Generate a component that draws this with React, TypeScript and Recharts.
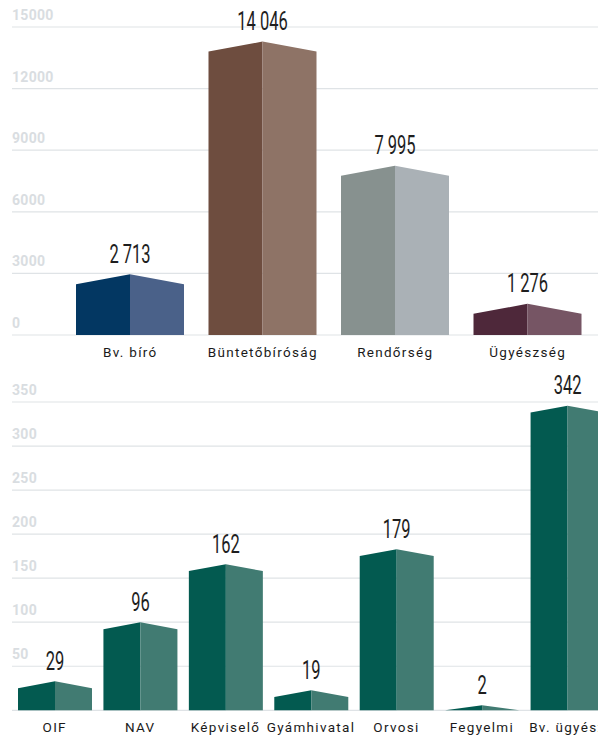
import React from 'react';
import { BarChart, Bar, XAxis, YAxis, CartesianGrid, LabelList } from 'recharts';

const topCategories = ['Bv. bíró', 'Büntetőbíróság', 'Rendőrség', 'Ügyészség'];
const topValues = [2713, 14046, 7995, 1276];
const topDark = ['#033762', '#6e4d3f', '#87918f', '#4e283a'];
const topLight = ['#4a6189', '#8e7366', '#aab1b6', '#765564'];
const topTicks = [0, 3000, 6000, 9000, 12000, 15000];

const bottomCategories = ['OIF', 'NAV', 'Képviselő', 'Gyámhivatal', 'Orvosi', 'Fegyelmi', 'Bv. ügyész'];
const bottomValues = [29, 96, 162, 19, 179, 2, 342];
const bottomDark = '#035a50';
const bottomLight = '#417b72';
const bottomTicks = [0, 50, 100, 150, 200, 250, 300, 350];

const topData = topCategories.map((name, i) => ({
  name,
  value: topValues[i],
  dark: topDark[i],
  light: topLight[i],
}));
const bottomData = bottomCategories.map((name, i) => ({
  name,
  value: bottomValues[i],
  dark: bottomDark,
  light: bottomLight,
}));

const fmt = (v: number) => String(v).replace(/\B(?=(\d{3})+(?!\d))/g, ' ');

const RoofBar = (props: any) => {
  const { x, y, width, height, payload } = props;
  if (width == null || height == null) return null;
  const base = y + height;
  const r = width * 0.046;
  const cx = x + width / 2;
  const corner = Math.min(y + r, base);
  const peak = y - r;
  return (
    <g>
      <polygon points={`${x},${corner} ${cx},${peak} ${cx},${base} ${x},${base}`} fill={payload.dark} />
      <polygon points={`${cx},${peak} ${x + width},${corner} ${x + width},${base} ${cx},${base}`} fill={payload.light} />
    </g>
  );
};

const ValueLabel = (props: any) => {
  const { x, y, width, value } = props;
  const r = width * 0.046;
  const cx = x + width / 2;
  const by = y - r - 11.5;
  return (
    <text
      transform={`translate(${cx},${by}) scale(0.66,1)`}
      x={0}
      y={0}
      textAnchor="middle"
      fontFamily="Roboto"
      fontSize={25}
      fontWeight={400}
      fill="#1e1e1e"
    >
      {fmt(Number(value))}
    </text>
  );
};

const YTick = (props: any) => {
  const { y, payload, hideZero } = props;
  if (hideZero && payload.value === 0) return null;
  return (
    <text x={12} y={y - 7} textAnchor="start" fontFamily="Roboto" fontWeight={700} fontSize={14} fill="#d9dde1" letterSpacing={0.3}>
      {payload.value}
    </text>
  );
};

const XTick = (props: any) => {
  const { x, y, payload } = props;
  return (
    <text x={x} y={y + 22} textAnchor="middle" fontFamily="Roboto" fontWeight={400} fontSize={13.5} fill="#1a1a1a" letterSpacing={1.3}>
      {payload.value}
    </text>
  );
};

export default function App() {
  return (
    <div style={{ position: 'absolute', left: 0, top: 0, width: 598, height: 736, overflow: 'hidden', background: '#ffffff' }}>
      <div style={{ position: 'absolute', left: 0, top: 0 }}>
        <BarChart width={598} height={370} data={topData} margin={{ top: 27, right: 0, bottom: 0, left: 11 }} barSize={108}>
          <CartesianGrid horizontal vertical={false} stroke="#dfe3e6" strokeWidth={1.2} />
          <XAxis
            dataKey="name"
            axisLine={false}
            tickLine={false}
            tickSize={0}
            tickMargin={0}
            height={35}
            padding={{ left: 52, right: 4 }}
            tick={<XTick />}
            interval={0}
          />
          <YAxis
            width={1}
            domain={[0, 15000]}
            ticks={topTicks}
            axisLine={false}
            tickLine={false}
            tickSize={0}
            tickMargin={0}
            tick={<YTick />}
            interval={0}
          />
          <Bar dataKey="value" shape={<RoofBar />} isAnimationActive={false}>
            <LabelList dataKey="value" content={<ValueLabel />} />
          </Bar>
        </BarChart>
      </div>
      <div style={{ position: 'absolute', left: 0, top: 370 }}>
        <BarChart width={610} height={366} data={bottomData} margin={{ top: 32, right: 0, bottom: 0, left: 11 }} barSize={74}>
          <CartesianGrid horizontal vertical={false} stroke="#dfe3e6" strokeWidth={1.2} />
          <XAxis
            dataKey="name"
            axisLine={false}
            tickLine={false}
            tickSize={0}
            tickMargin={0}
            height={25.7}
            padding={{ left: 0, right: 0 }}
            tick={<XTick />}
            interval={0}
          />
          <YAxis
            width={1}
            domain={[0, 350]}
            ticks={bottomTicks}
            axisLine={false}
            tickLine={false}
            tickSize={0}
            tickMargin={0}
            tick={<YTick hideZero />}
            interval={0}
          />
          <Bar dataKey="value" shape={<RoofBar />} isAnimationActive={false}>
            <LabelList dataKey="value" content={<ValueLabel />} />
          </Bar>
        </BarChart>
      </div>
    </div>
  );
}
